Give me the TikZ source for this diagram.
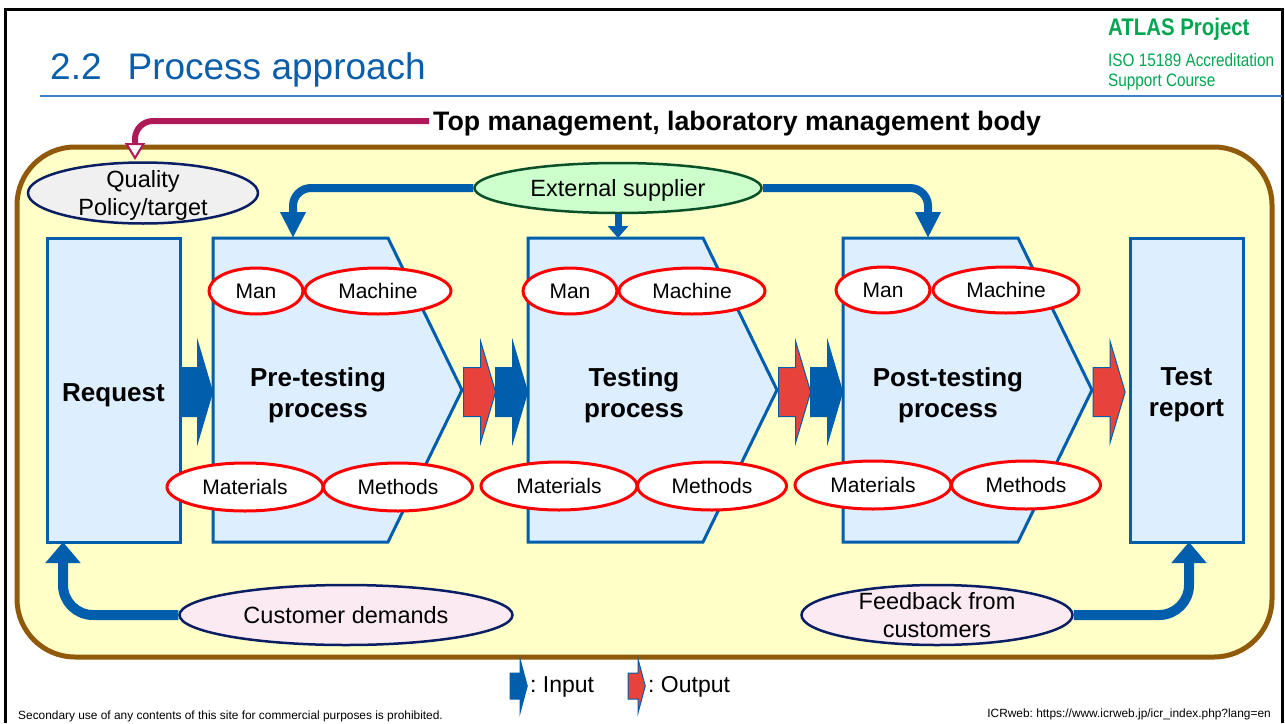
\documentclass[tikz,border=0pt]{standalone}
\usepackage{fontspec}
\setmainfont{Liberation Sans}
\newfontfamily\narrowfont[FakeStretch=0.85]{Liberation Sans}
\usetikzlibrary{shapes.geometric,shapes.arrows,arrows.meta}
\frenchspacing
\definecolor{titleblue}{RGB}{11,94,170}
\definecolor{rulecol}{RGB}{60,130,200}
\definecolor{boxblue}{RGB}{0,94,172}
\definecolor{boxfill}{RGB}{221,238,255}
\definecolor{panel}{RGB}{255,255,200}
\definecolor{panelframe}{RGB}{145,90,10}
\definecolor{magline}{RGB}{174,26,88}
\definecolor{outred}{RGB}{232,67,58}
\definecolor{atlasgreen}{RGB}{0,166,80}
\definecolor{supfill}{RGB}{204,255,204}
\definecolor{supline}{RGB}{10,80,40}
\definecolor{qualfill}{RGB}{240,240,240}
\definecolor{navy}{RGB}{10,30,100}
\definecolor{custfill}{RGB}{252,234,242}
\begin{document}
\begin{tikzpicture}[x=1pt, y=-1pt,
  box/.style={draw=boxblue, line width=3pt, fill=boxfill},
  proc/.style={draw=boxblue, line width=3pt, fill=boxfill},
  plabel/.style={align=center, font=\bfseries\fontsize{26}{31}\selectfont},
  fourm/.style={ellipse, draw=red, line width=3pt, fill=white, inner sep=0pt, font=\fontsize{21}{25}\selectfont},
  oval/.style={ellipse, line width=2.5pt, inner xsep=0pt, inner ysep=-10pt, text depth=0pt, align=center, font=\fontsize{23.5}{28}\selectfont},
  inarr/.style={single arrow, fill=boxblue, draw=boxblue, line width=1pt, inner xsep=0pt, inner ysep=24pt, single arrow head extend=26pt, single arrow tip angle=147, minimum height=32pt},
  outarr/.style={inarr, fill=outred},
  keyin/.style={single arrow, fill=boxblue, draw=boxblue, line width=1pt, inner xsep=0pt, inner ysep=12.5pt, single arrow head extend=14pt, single arrow tip angle=150, minimum height=17pt},
  keyout/.style={keyin, fill=outred},
  flow/.style={draw=boxblue, line width=8pt, rounded corners=18pt, -{Triangle[width=24pt,length=26pt]}},
  stub/.style={draw=boxblue, line width=7pt, -{Triangle[width=20pt,length=12pt]}},
  back/.style={draw=boxblue, line width=10pt, rounded corners=30pt, -{Triangle[width=34pt,length=21pt]}},
  mgline/.style={draw=magline, line width=6pt, rounded corners=18pt, -{Triangle[width=20pt,length=17pt,fill=white,line width=2pt]}}]
\useasboundingbox (0,0) rectangle (1285,723);
% slide frame and header
\draw[line width=3pt] (5,723) -- (5,9) -- (1282,9) -- (1282,723);
\node[anchor=base west, inner sep=0pt, text=titleblue, font=\fontsize{37}{41}\selectfont] (title) at (50,79) {2.2\hspace{26pt}Process approach};
\draw[rulecol, line width=1.5pt] (40,96) -- (1282,96);
\node[anchor=base west, inner sep=0pt, text=atlasgreen, font=\narrowfont\bfseries\fontsize{24}{28}\selectfont] (atlas) at (1108,35) {ATLAS Project};
\node[anchor=base west, inner sep=0pt, text=atlasgreen, font=\narrowfont\fontsize{18}{21}\selectfont] (iso) at (1108,66) {ISO 15189 Accreditation};
\node[anchor=base west, inner sep=0pt, text=atlasgreen, font=\narrowfont\fontsize{18}{21}\selectfont] (course) at (1108,86) {Support Course};
\node[anchor=west, inner sep=4pt, text depth=0pt, font=\bfseries\fontsize{26.7}{30}\selectfont] (topm) at (429,121) {Top management, laboratory management body};
% panel
\draw[panelframe, line width=5pt, fill=panel, rounded corners=58pt] (17,147) rectangle (1272,657);
% boxes
\node[box, minimum width=133pt, minimum height=304pt] (req) at (113.5,390) {};
\node[box, minimum width=113pt, minimum height=304pt] (rep) at (1186.5,390) {};
\node[plabel] (reqtext) at (113.5,395) {Request};
\node[plabel] (reptext) at (1186.5,394.5) {Test\\report};
\draw[proc] (213,238) -- (388,238) -- (462,390) -- (388,542) -- (213,542) -- cycle;
\draw[proc] (528,238) -- (703,238) -- (777,390) -- (703,542) -- (528,542) -- cycle;
\draw[proc] (843,238) -- (1018,238) -- (1092,390) -- (1018,542) -- (843,542) -- cycle;
\node[plabel] (pre) at (318,395) {Pre-testing\\process};
\node[plabel] (test) at (634,395.5) {Testing\\process};
\node[plabel] (post) at (948,395) {Post-testing\\process};
% 4M
\node[fourm, minimum width=94pt, minimum height=46pt] (man1) at (256,291) {Man};
\node[fourm, minimum width=146pt, minimum height=46pt] (mach1) at (378,291) {Machine};
\node[fourm, minimum width=156pt, minimum height=48pt] (mat1) at (245,487) {Materials};
\node[fourm, minimum width=149pt, minimum height=48pt] (meth1) at (398,487) {Methods};
\node[fourm, minimum width=94pt, minimum height=46pt] (man2) at (570,291) {Man};
\node[fourm, minimum width=146pt, minimum height=46pt] (mach2) at (692,291) {Machine};
\node[fourm, minimum width=156pt, minimum height=48pt] (mat2) at (559,486) {Materials};
\node[fourm, minimum width=149pt, minimum height=48pt] (meth2) at (712,486) {Methods};
\node[fourm, minimum width=94pt, minimum height=46pt] (man3) at (883,290) {Man};
\node[fourm, minimum width=146pt, minimum height=46pt] (mach3) at (1006,290) {Machine};
\node[fourm, minimum width=156pt, minimum height=48pt] (mat3) at (873,485) {Materials};
\node[fourm, minimum width=149pt, minimum height=48pt] (meth3) at (1026,485) {Methods};
% inputs and outputs
\node[inarr] (in1) at (193,392) {};
\node[outarr] (out1) at (476,392) {};
\node[inarr] (in2) at (508,392) {};
\node[outarr] (out2) at (791,392) {};
\node[inarr] (in3) at (823,392) {};
\node[outarr] (out3) at (1105.5,392) {};
% ovals
\node[oval, draw=navy, fill=qualfill, minimum width=230pt, minimum height=61pt] (qual) at (143,193) {Quality\\Policy/target};
\node[oval, draw=supline, fill=supfill, minimum width=287pt, minimum height=50pt] (supp) at (618,188) {External supplier};
\node[oval, draw=navy, fill=custfill, minimum width=333pt, minimum height=60pt] (cust) at (346,615) {Customer demands};
\node[oval, draw=navy, fill=custfill, minimum width=271pt, minimum height=60pt] (feed) at (937,615) {Feedback from\\customers};
% connectors
\coordinate (qualin) at (135,160);
\coordinate (prein) at (293,238);
\coordinate (testin) at (618,238);
\coordinate (postin) at (928,238);
\coordinate (reqin) at (63,542);
\coordinate (repin) at (1189,542);
\draw[mgline] (topm.west) -| (qualin);
\draw[flow] (supp.west) -| (prein);
\draw[flow] (supp.east) -| (postin);
\draw[stub] (supp.south) -- (testin);
\draw[back] (cust.west) -| (reqin);
\draw[back] (feed.east) -| (repin);
% legend and footer
\node[keyin] (kin) at (517,686) {};
\node[anchor=base west, inner sep=0pt, font=\fontsize{23}{27}\selectfont] (kintext) at (530,692) {: Input};
\node[keyout] (kout) at (635,686) {};
\node[anchor=base west, inner sep=0pt, font=\fontsize{23}{27}\selectfont] (kouttext) at (648,692) {: Output};
\node[anchor=base west, inner sep=0pt, font=\fontsize{11.9}{14}\selectfont] (note) at (18,719) {Secondary use of any contents of this site for commercial purposes is prohibited.};
\node[anchor=base east, inner sep=0pt, font=\fontsize{11.9}{14}\selectfont] (src) at (1271,717) {ICRweb: https://www.icrweb.jp/icr\_index.php?lang=en};
\end{tikzpicture}
\end{document}
